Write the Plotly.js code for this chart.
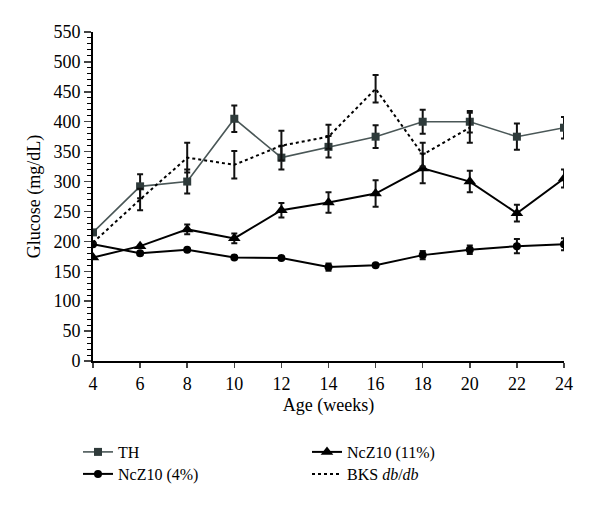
<!DOCTYPE html>
<html><head><meta charset="utf-8">
<script src="https://cdn.plot.ly/plotly-3.0.1.min.js"></script>
<style>body{margin:0;background:#fff}#chart{width:600px;height:507px}</style>
</head><body><div id="chart"></div>
<script>
const weeks = [4,6,8,10,12,14,16,18,20,22,24];
const thVals = [215,292,300,405,340,358,375,400,400,375,390];
const thErr  = [0,20,20,22,20,18,19,20,18,22,18];
const nc11Vals = [173,192,220,205,252,265,280,322,300,247,305];
const nc11Err  = [0,0,8,8,12,17,22,25,18,14,15];
const nc4Vals = [195,180,186,173,172,157,160,177,186,192,195];
const nc4Err  = [0,0,0,0,0,6,0,7,7,12,10];
const bksWeeks = [4,6,8,10,12,14,16,18,20];
const bksVals = [198,270,340,328,360,375,455,345,390];
const bksErr  = [0,18,25,23,25,20,23,20,25];
const yTicks = [0,50,100,150,200,250,300,350,400,450,500,550];

const eb = (a)=>({type:'data',array:a,visible:true,color:'#111',thickness:2,width:3});
const traces = [
 {x:weeks,y:thVals,name:'TH',mode:'lines+markers',error_y:eb(thErr),legend:'legend',
  line:{color:'#4a5757',width:1.6},marker:{symbol:'square',size:8,color:'#2f3b3b'}},
 {x:weeks,y:nc11Vals,name:'NcZ10 (11%)',mode:'lines+markers',error_y:eb(nc11Err),legend:'legend',
  line:{color:'#000',width:2},marker:{symbol:'triangle-up',size:11,color:'#000'}},
 {x:weeks,y:nc4Vals,name:'NcZ10 (4%)',mode:'lines+markers',error_y:eb(nc4Err),legend:'legend2',
  line:{color:'#000',width:2},marker:{symbol:'circle',size:8,color:'#000'}},
 {x:bksWeeks,y:bksVals,name:'BKS <i>db</i>/<i>db</i>',mode:'lines',error_y:eb(bksErr),legend:'legend2',
  line:{color:'#000',width:2,dash:'dot'}}
];
const font = {family:'"Liberation Serif","DejaVu Serif",serif',size:18,color:'#000'};
const lfont = {family:'"Liberation Serif","DejaVu Serif",serif',size:16,color:'#000'};
const leg = (y)=>({orientation:'h',xref:'container',yref:'container',x:0.13,xanchor:'left',y:y,yanchor:'top',
  entrywidth:184,font:lfont,bgcolor:'rgba(0,0,0,0)',tracegroupgap:0,itemwidth:30});
const layout = {
 width:600,height:507,paper_bgcolor:'#fff',plot_bgcolor:'#fff',font:font,
 margin:{l:93,r:36,t:32,b:146,autoexpand:false},showlegend:true,
 xaxis:{range:[4,24],tickmode:'array',tickvals:weeks,ticks:'outside',ticklen:5,tickwidth:1.5,
  showline:true,linewidth:2,linecolor:'#000',showgrid:false,zeroline:false,
  title:{text:'Age (weeks)',font:font,standoff:6}},
 yaxis:{range:[0,550],tickmode:'array',tickvals:yTicks,ticks:'outside',ticklen:7,tickwidth:1.5,
  showline:true,linewidth:2,linecolor:'#000',showgrid:false,zeroline:false,
  minor:{dtick:10,ticks:'outside',ticklen:4,tickwidth:1,tickcolor:'#000',showgrid:false},
  title:{text:'Glucose (mg/dL)',font:font,standoff:8}},
 legend:leg(1-435/507),
 legend2:leg(1-457/507)
};
Plotly.newPlot('chart',traces,layout,{displayModeBar:false,staticPlot:true});
</script></body></html>
